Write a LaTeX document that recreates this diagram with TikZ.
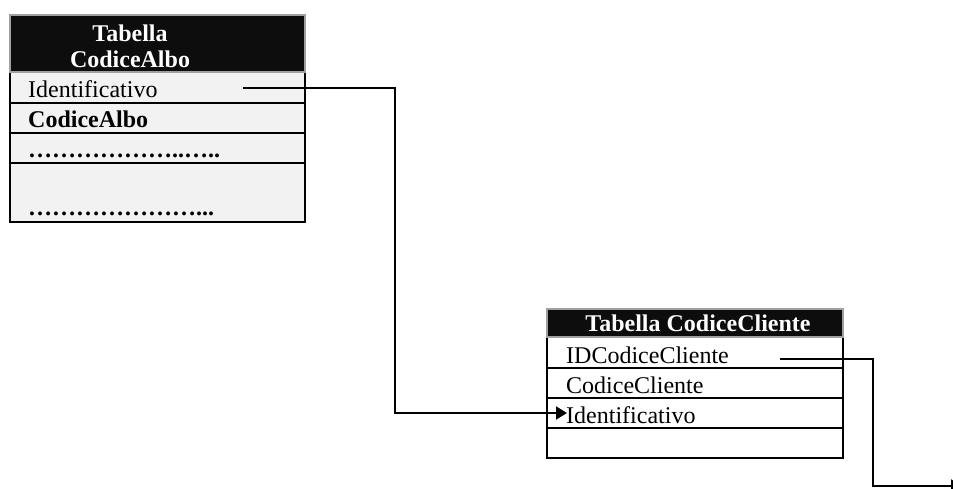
\documentclass[tikz,border=0pt]{standalone}
\usepackage{fontspec}
\setmainfont{Liberation Serif}
\usetikzlibrary{arrows.meta}
\definecolor{rowgray}{HTML}{F2F2F2}
\definecolor{headgray}{HTML}{A0A0A0}
\begin{document}
\begin{tikzpicture}[x=1pt,y=-1pt,
    font=\fontsize{24}{26}\selectfont,
    lbl/.style={anchor=base west,inner sep=0pt},
    head/.style={inner sep=0pt,text=white,align=center,font=\fontsize{24}{26}\selectfont\bfseries},
    headbox/.style={fill=black!95,draw=headgray,line width=2pt},
    rule/.style={line width=2pt},
    link/.style={line width=2pt},
    tip/.style={-{Triangle[length=11pt,width=13pt]}}]
  \useasboundingbox (0,0) rectangle (953,488);
  \begin{scope}
    \fill[rowgray] (10,72) rectangle (305,222);
    \draw[rule] (10,72) rectangle (305,222);
    \foreach \y in {103,133,163} \draw[rule] (10,\y) -- (305,\y);
    \draw[headbox] (10,15) rectangle (305,72);
  \end{scope}
  \node[head] (albo) at (130,46) {Tabella\\CodiceAlbo};
  \node[lbl] (idAlbo) at (28,97) {Identificativo};
  \node[lbl] (codAlbo) at (28,127) {\textbf{CodiceAlbo}};
  \node[lbl] (dotsA) at (28,157) {\textbf{………………..…..}};
  \node[lbl] (dotsB) at (28,215) {\textbf{…………………...}};
  \begin{scope}
    \draw[rule] (547,337) rectangle (843,458);
    \foreach \y in {368,398,428} \draw[rule] (547,\y) -- (843,\y);
    \draw[headbox] (547,309) rectangle (843,337);
  \end{scope}
  \node[head,anchor=base] (cliente) at (698,331) {Tabella CodiceCliente};
  \node[lbl] (idCli) at (566,363) {IDCodiceCliente};
  \node[lbl] (codCli) at (566,393) {CodiceCliente};
  \node[lbl] (fkAlbo) at (566,423) {Identificativo};
  \coordinate (startA) at (243,88);
  \coordinate (bendA) at (395,88);
  \coordinate (endA) at (567,413);
  \coordinate (startB) at (780,359);
  \coordinate (bendB) at (873,359);
  \coordinate (endB) at (962,486);
  \draw[link,tip] (startA) -- (bendA) |- (endA);
  \draw[link,tip] (startB) -- (bendB) |- (endB);
\end{tikzpicture}
\end{document}
